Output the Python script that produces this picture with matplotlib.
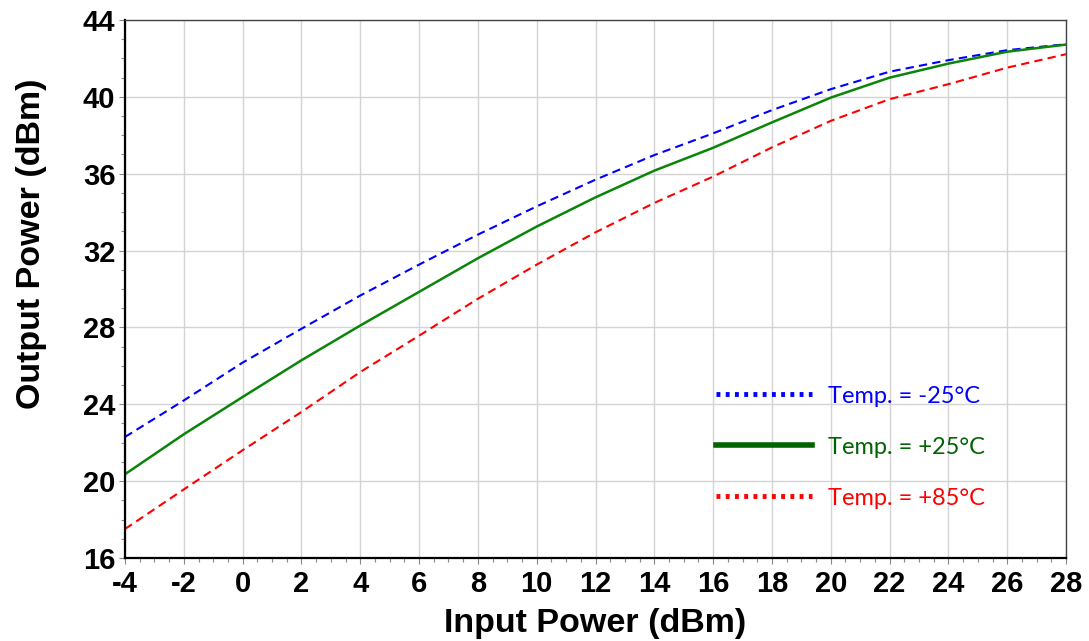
import matplotlib
matplotlib.use('Agg')
import matplotlib.pyplot as plt
from matplotlib.lines import Line2D
from matplotlib.ticker import MultipleLocator

plt.rcParams['axes.unicode_minus'] = False

# input power (dBm)
pin = [-4, -2, 0, 2, 4, 6, 8, 10, 12, 14, 16, 18, 20, 22, 24, 26, 28]
# output power (dBm) per temperature
pout_m25 = [22.30, 24.20, 26.17, 27.93, 29.66, 31.27, 32.83, 34.30, 35.69,
            36.97, 38.10, 39.31, 40.40, 41.31, 41.91, 42.43, 42.74]
pout_p25 = [20.36, 22.44, 24.38, 26.29, 28.10, 29.85, 31.60, 33.25, 34.77,
            36.16, 37.35, 38.67, 39.96, 41.00, 41.73, 42.35, 42.72]
pout_p85 = [17.51, 19.57, 21.61, 23.60, 25.68, 27.57, 29.49, 31.27, 32.95,
            34.48, 35.85, 37.37, 38.75, 39.88, 40.66, 41.52, 42.22]
labels = ['Temp. = -25°C', 'Temp. = +25°C', 'Temp. = +85°C']

fig = plt.figure(figsize=(10.89, 6.41), dpi=100)
ax = fig.add_axes([0.1148, 0.1295, 0.8641, 0.8393])

ax.plot(pin, pout_m25, color='#0000ff', lw=1.5, dashes=(4, 2.5))
ax.plot(pin, pout_p25, color='#0a850a', lw=1.8)
ax.plot(pin, pout_p85, color='#ff0000', lw=1.5, dashes=(4, 2.5))

ax.set_xlim(-4, 28)
ax.set_ylim(16, 44)
ax.xaxis.set_major_locator(MultipleLocator(2))
ax.xaxis.set_minor_locator(MultipleLocator(0.5))
ax.yaxis.set_major_locator(MultipleLocator(4))
ax.yaxis.set_minor_locator(MultipleLocator(1))
ax.grid(which='major', color='#d4d4d4', lw=1.0)
ax.set_axisbelow(True)

for s in ['left', 'bottom']:
    ax.spines[s].set_color('black')
    ax.spines[s].set_linewidth(1.6)
for s in ['top', 'right']:
    ax.spines[s].set_color('#444444')
    ax.spines[s].set_linewidth(1.0)

ax.tick_params(which='both', direction='out', color='#888888', width=0.8)
ax.tick_params(which='major', length=4)
ax.tick_params(which='minor', length=3)
ax.tick_params(axis='x', which='major', pad=5)
ax.tick_params(axis='y', which='major', pad=3)
for lab in ax.get_xticklabels() + ax.get_yticklabels():
    lab.set_fontfamily('Liberation Sans')
    lab.set_fontweight('bold')
    lab.set_fontsize(21)

ax.set_xlabel('Input Power (dBm)', fontfamily='Liberation Sans',
              fontweight='bold', fontsize=24.5)
ax.set_ylabel('Output Power (dBm)', fontfamily='Liberation Sans',
              fontweight='bold', fontsize=24.5)
ax.xaxis.set_label_coords(0.5, -0.093)
ax.yaxis.set_label_coords(-0.083, 0.585)

handles = [Line2D([], [], color='#0000ff', lw=3.5, dashes=(0.8, 1.1)),
           Line2D([], [], color='#006400', lw=4),
           Line2D([], [], color='#ff0000', lw=3.5, dashes=(0.8, 1.1))]
leg = ax.legend(handles, labels, loc='upper left', bbox_to_anchor=(0.605, 0.36),
                frameon=False, handlelength=4.1, handletextpad=0.68,
                labelspacing=1.27, prop={'family': 'Lato', 'size': 17},
                labelcolor=['#0000ff', '#006400', '#ff0000'])

fig.savefig('out.png', dpi=100)
